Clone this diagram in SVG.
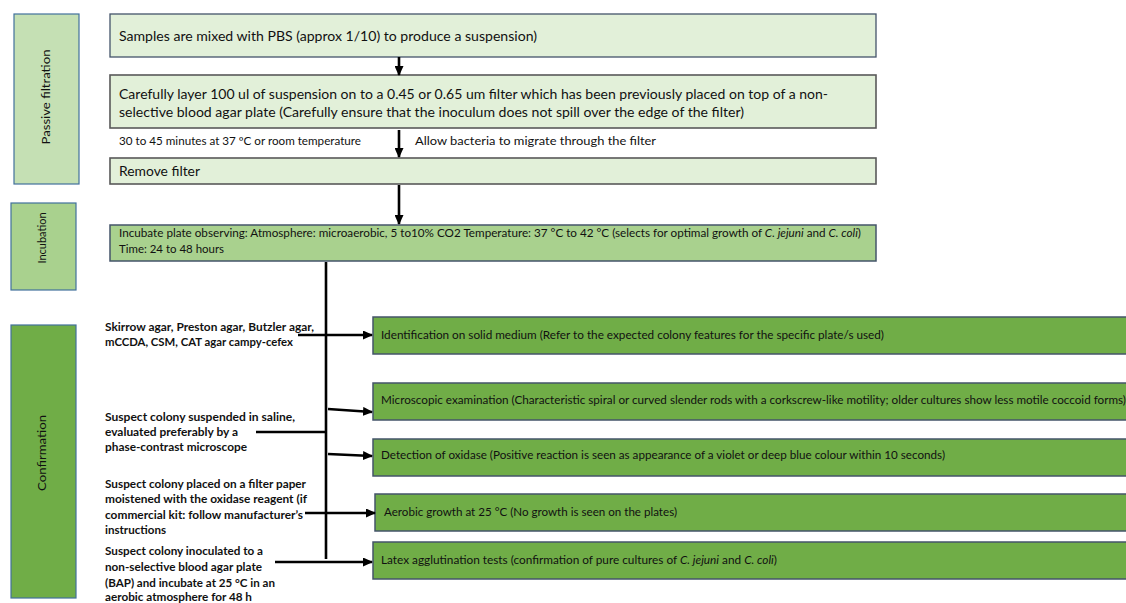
<svg xmlns="http://www.w3.org/2000/svg" width="1126" height="603" viewBox="0 0 1126 603">
<style>
text{font-family:Lato,"Open Sans","Liberation Sans",sans-serif;fill:#111;}
.t14{font-size:14px;}
.t11{font-size:11px;}
.t12{font-size:12px;}
.b{font-size:11.5px;font-weight:bold;}
.side{stroke:#41719c;stroke-width:1.2;}
.top1{fill:#e2f0d9;stroke:#44546a;stroke-width:1.3;}
.top2{fill:#e2f0d9;stroke:#595959;stroke-width:1.6;}
.inc{fill:#a9d18e;stroke:#44546a;stroke-width:1.5;}
.conf{fill:#70ad47;stroke:#44546a;stroke-width:1.5;}
.conn{stroke:#000;stroke-width:2.6;fill:none;}
</style>
<defs>
<marker id="ah" markerUnits="userSpaceOnUse" markerWidth="10" markerHeight="9" refX="9" refY="4.5" orient="auto">
<path d="M0,0 L10,4.5 L0,9 z" fill="#000"/>
</marker>
</defs>
<rect width="1126" height="603" fill="#fff"/>

<g id="stage-passive">
<rect class="side" x="14" y="14" width="65" height="170" fill="#c5e0b4"/>
<text class="t12" transform="translate(50,97) rotate(-90)" text-anchor="middle" textLength="95" lengthAdjust="spacingAndGlyphs">Passive filtration</text>
</g>
<g id="stage-incubation">
<rect class="side" x="11" y="203" width="65" height="87" fill="#a9d18e"/>
<text class="t11" transform="translate(46,238) rotate(-90)" text-anchor="middle">Incubation</text>
</g>
<g id="stage-confirmation">
<rect class="side" x="11" y="325" width="65" height="273" fill="#70ad47"/>
<text class="t11" transform="translate(46,453) rotate(-90)" text-anchor="middle" textLength="76" lengthAdjust="spacingAndGlyphs">Confirmation</text>
</g>

<g id="step-mix">
<rect class="top1" x="110" y="14" width="766" height="43"/>
<text class="t14" x="119" y="41" textLength="418" lengthAdjust="spacingAndGlyphs">Samples are mixed with PBS (approx 1/10) to produce a suspension)</text>
</g>
<g id="step-layer">
<rect class="top2" x="110" y="75" width="766" height="53"/>
<text class="t14" x="119" y="99" textLength="709" lengthAdjust="spacingAndGlyphs">Carefully layer 100 ul of suspension on to a 0.45 or 0.65 um filter which has been previously placed on top of a non-</text>
<text class="t14" x="119" y="117" textLength="625" lengthAdjust="spacingAndGlyphs">selective blood agar plate (Carefully ensure that the inoculum does not spill over the edge of the filter)</text>
</g>
<g id="step-remove">
<rect class="top2" x="110" y="158" width="766" height="26"/>
<text class="t14" x="119" y="176" textLength="81" lengthAdjust="spacingAndGlyphs">Remove filter</text>
</g>
<g id="step-incubate">
<rect class="inc" x="110" y="225" width="766" height="36"/>
<text class="t11" x="119" y="237" textLength="742" lengthAdjust="spacingAndGlyphs">Incubate plate observing: Atmosphere: microaerobic, 5 to10% CO2 Temperature: 37 °C to 42 °C (selects for optimal growth of <tspan font-style="italic">C. jejuni</tspan> and <tspan font-style="italic">C. coli</tspan>)</text>
<text class="t11" x="119" y="253" textLength="105" lengthAdjust="spacingAndGlyphs">Time: 24 to 48 hours</text>
</g>

<g id="res-ident">
<rect class="conf" x="373" y="317" width="760" height="37"/>
<text class="t11" x="381" y="339" textLength="503" lengthAdjust="spacingAndGlyphs">Identification on solid medium (Refer to the expected colony features for the specific plate/s used)</text>
</g>
<g id="res-micro">
<rect class="conf" x="373" y="383" width="760" height="37"/>
<text class="t11" x="381" y="404" textLength="745" lengthAdjust="spacingAndGlyphs">Microscopic examination (Characteristic spiral or curved slender rods with a corkscrew-like motility; older cultures show less motile coccoid forms)</text>
</g>
<g id="res-oxidase">
<rect class="conf" x="373" y="439" width="760" height="37"/>
<text class="t11" x="381" y="459" textLength="564" lengthAdjust="spacingAndGlyphs">Detection of oxidase (Positive reaction is seen as appearance of a violet or deep blue colour within 10 seconds)</text>
</g>
<g id="res-aerobic">
<rect class="conf" x="375" y="494" width="760" height="37"/>
<text class="t11" x="384" y="516" textLength="293" lengthAdjust="spacingAndGlyphs">Aerobic growth at 25 °C (No growth is seen on the plates)</text>
</g>
<g id="res-latex">
<rect class="conf" x="373" y="542" width="760" height="37"/>
<text class="t11" x="381" y="564" textLength="396" lengthAdjust="spacingAndGlyphs">Latex agglutination tests (confirmation of pure cultures of <tspan font-style="italic">C. jejuni</tspan> and <tspan font-style="italic">C. coli</tspan>)</text>
</g>

<g id="method-media">
<text class="b" x="105" y="331" textLength="209" lengthAdjust="spacingAndGlyphs">Skirrow agar, Preston agar, Butzler agar,</text>
<text class="b" x="105" y="346" textLength="188" lengthAdjust="spacingAndGlyphs">mCCDA, CSM, CAT agar campy-cefex</text>
</g>
<g id="method-saline">
<text class="b" x="105" y="421" textLength="190" lengthAdjust="spacingAndGlyphs">Suspect colony suspended in saline,</text>
<text class="b" x="105" y="436" textLength="133" lengthAdjust="spacingAndGlyphs">evaluated preferably by a</text>
<text class="b" x="105" y="451" textLength="142" lengthAdjust="spacingAndGlyphs">phase-contrast microscope</text>
</g>
<g id="method-filter">
<text class="b" x="105" y="488" textLength="201" lengthAdjust="spacingAndGlyphs">Suspect colony placed on a filter paper</text>
<text class="b" x="105" y="503" textLength="202" lengthAdjust="spacingAndGlyphs">moistened with the oxidase reagent (if</text>
<text class="b" x="105" y="519" textLength="198" lengthAdjust="spacingAndGlyphs">commercial kit: follow manufacturer’s</text>
<text class="b" x="105" y="534" textLength="61" lengthAdjust="spacingAndGlyphs">instructions</text>
</g>
<g id="method-bap">
<text class="b" x="105" y="555" textLength="158" lengthAdjust="spacingAndGlyphs">Suspect colony inoculated to a</text>
<text class="b" x="105" y="571" textLength="157" lengthAdjust="spacingAndGlyphs">non-selective blood agar plate</text>
<text class="b" x="105" y="587" textLength="170" lengthAdjust="spacingAndGlyphs">(BAP) and incubate at 25 °C in an</text>
<text class="b" x="105" y="601" textLength="147" lengthAdjust="spacingAndGlyphs">aerobic atmosphere for 48 h</text>
</g>

<g id="connectors">
<line class="conn" x1="399" y1="57" x2="399" y2="75" marker-end="url(#ah)"/>
<line class="conn" x1="399" y1="130" x2="399" y2="157" marker-end="url(#ah)"/>
<text class="t11" x="119" y="145" textLength="242" lengthAdjust="spacingAndGlyphs">30 to 45 minutes at 37 ºC or room temperature</text>
<text class="t12" x="415" y="145" textLength="241" lengthAdjust="spacingAndGlyphs">Allow bacteria to migrate through the filter</text>
<line class="conn" x1="399" y1="185" x2="399" y2="224" marker-end="url(#ah)"/>
<line class="conn" x1="326" y1="262" x2="326" y2="559"/>
<line class="conn" x1="298" y1="335" x2="372" y2="335" marker-end="url(#ah)"/>
<line class="conn" x1="328" y1="409" x2="372" y2="412" marker-end="url(#ah)"/>
<line class="conn" x1="256" y1="432" x2="326" y2="432"/>
<line class="conn" x1="328" y1="454" x2="372" y2="456" marker-end="url(#ah)"/>
<line class="conn" x1="305" y1="513" x2="375" y2="513" marker-end="url(#ah)"/>
<line class="conn" x1="275" y1="562" x2="372" y2="562" marker-end="url(#ah)"/>
</g>
</svg>
